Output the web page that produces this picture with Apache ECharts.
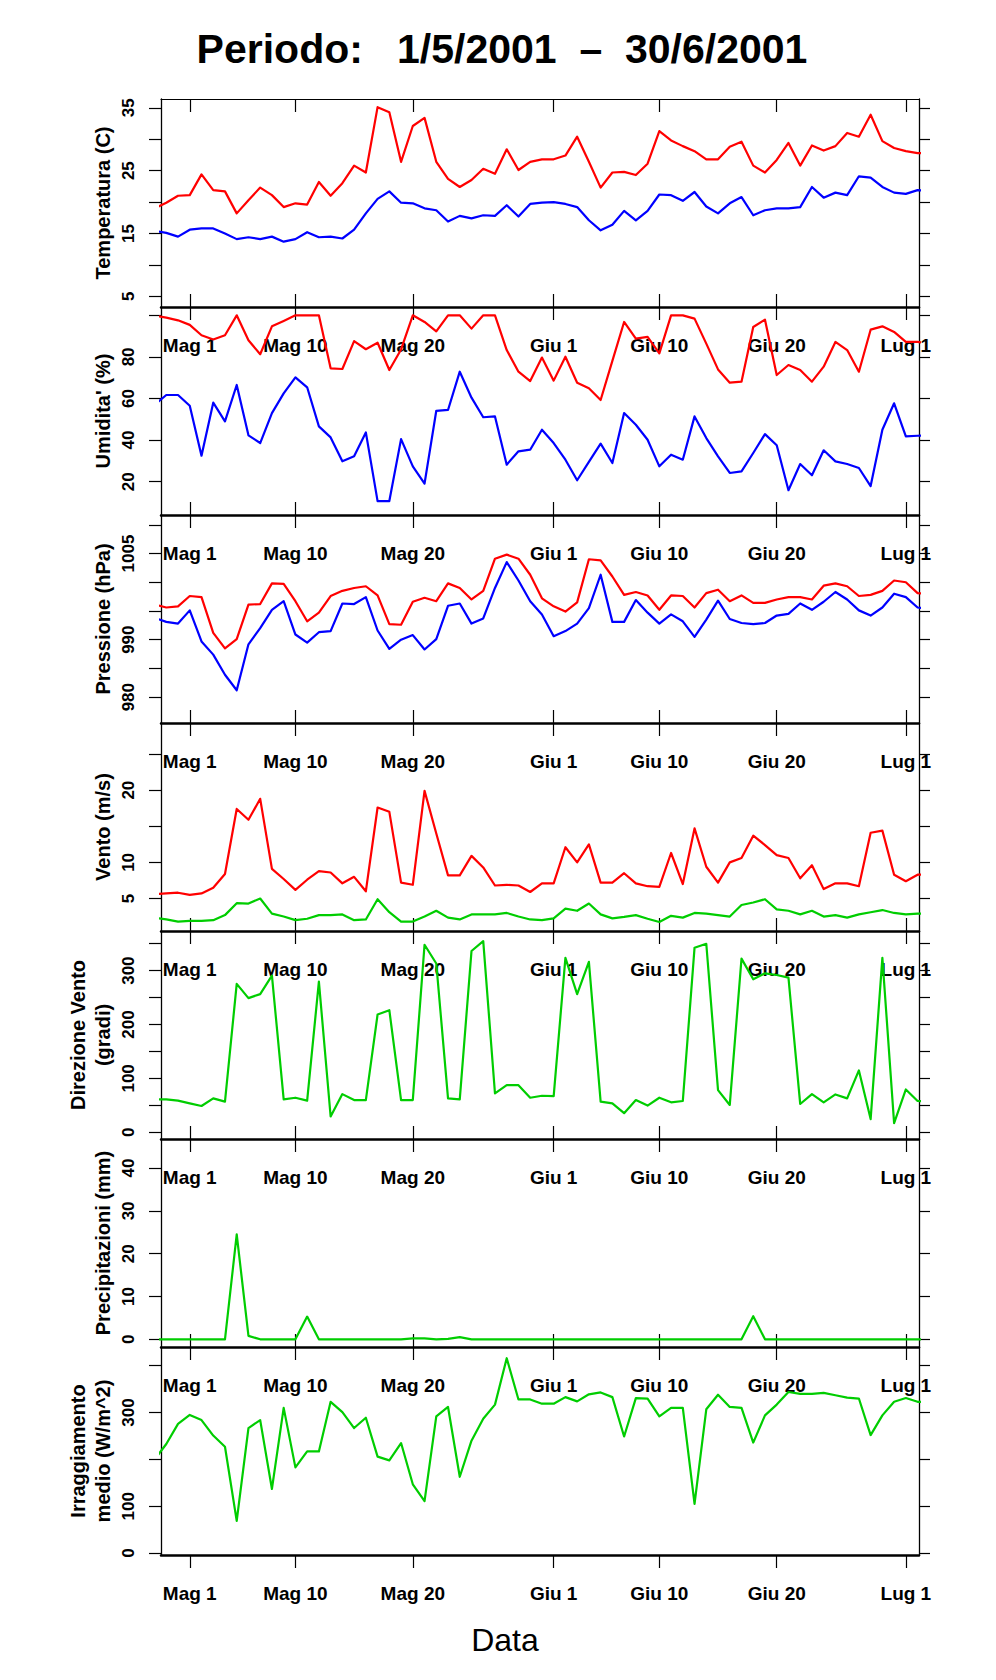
<!DOCTYPE html>
<html>
<head>
  <meta charset="utf-8">
  <title>Periodo 1/5/2001 - 30/6/2001</title>
  <script src="https://cdn.jsdelivr.net/npm/echarts@6/dist/echarts.min.js"></script>
  <style>
    html, body { margin: 0; padding: 0; background: #fff; }
    #main { width: 996px; height: 1680px; }
  </style>
</head>
<body>
<div id="main"></div>
<script>
// days counted from 1 May 2001; the series start on 28 April
var firstDay = -3;
var tickDays = [0, 9, 19, 31, 40, 50, 61];
var tickLabels = ['Mag 1', 'Mag 10', 'Mag 20', 'Giu 1', 'Giu 10', 'Giu 20', 'Lug 1'];

var tempMax = [19.0, 19.9, 21.0, 21.1, 24.4, 21.9, 21.7, 18.2, 20.3, 22.3,
  21.1, 19.2, 19.8, 19.6, 23.2, 21.0, 23.0, 25.8, 24.7, 35.1,
  34.3, 26.4, 32.1, 33.4, 26.4, 23.7, 22.4, 23.5, 25.3, 24.5,
  28.4, 25.1, 26.4, 26.8, 26.8, 27.4, 30.4, 26.4, 22.3, 24.7,
  24.8, 24.3, 26.1, 31.3, 29.8, 28.9, 28.1, 26.8, 26.8, 28.8,
  29.6, 25.8, 24.7, 26.7, 29.4, 25.8, 29.0, 28.2, 28.9, 31.0,
  30.4, 33.9, 29.7, 28.6, 28.1, 27.8, 27.7];
var tempMin = [15.4, 15.1, 14.5, 15.6, 15.8, 15.8, 15.0, 14.1, 14.4, 14.1,
  14.5, 13.7, 14.1, 15.2, 14.4, 14.5, 14.2, 15.6, 18.2, 20.5,
  21.7, 19.9, 19.8, 19.0, 18.7, 16.9, 17.8, 17.4, 17.9, 17.8,
  19.5, 17.7, 19.7, 19.9, 20.0, 19.7, 19.2, 17.1, 15.5, 16.4,
  18.6, 17.1, 18.6, 21.2, 21.1, 20.2, 21.6, 19.3, 18.2, 19.8,
  20.8, 17.9, 18.7, 19.0, 19.0, 19.2, 22.4, 20.7, 21.5, 21.1,
  24.1, 23.9, 22.4, 21.5, 21.3, 21.9, 21.8];

var humMax = [99.8, 98.9, 97.6, 95.4, 90.4, 88.4, 90.4, 100, 88.0, 81.3,
  94.7, 97.3, 100, 100, 100, 74.5, 74.2, 87.6, 83.7, 86.8,
  73.7, 83.6, 100, 96.8, 92.3, 100, 100, 93.6, 100, 100,
  83.3, 72.9, 68.4, 79.7, 68.6, 80.1, 67.6, 64.9, 59.3, 78.1,
  96.8, 88.8, 89.6, 81.7, 100, 100, 98.4, 86.4, 74.0, 67.6,
  68.1, 94.4, 97.9, 71.3, 76.1, 73.7, 68.1, 75.3, 87.2, 83.3,
  72.9, 93.1, 94.7, 92.0, 87.2, 87.2, 86.4];
var humMin = [56.9, 61.7, 61.7, 56.5, 32.5, 58.0, 49.0, 66.5, 42.3, 38.6,
  53.0, 62.5, 70.2, 65.4, 46.6, 41.3, 29.8, 32.2, 43.7, 10.7,
  10.7, 40.5, 27.4, 19.1, 54.1, 54.5, 72.9, 60.4, 51.0, 51.4,
  28.2, 34.6, 35.4, 45.0, 38.6, 30.6, 20.7, 29.5, 38.3, 29.0,
  53.0, 47.4, 40.2, 27.4, 33.0, 30.6, 51.4, 41.0, 32.2, 24.2,
  25.0, 33.8, 42.9, 37.5, 15.9, 28.5, 23.1, 35.1, 29.8, 28.5,
  26.6, 17.9, 45.0, 57.7, 41.8, 42.1, 42.3];

var pressMax = [996.1, 995.6, 995.8, 997.6, 997.4, 991.2, 988.5, 990.1, 996.1, 996.2,
  999.8, 999.7, 996.7, 993.2, 994.7, 997.6, 998.5, 999.0, 999.3, 997.7,
  992.7, 992.6, 996.6, 997.3, 996.7, 999.8, 999.0, 997.0, 998.5, 1004.1,
  1004.8, 1004.1, 1001.3, 997.2, 995.8, 994.9, 996.5, 1004.0, 1003.8, 1001.0,
  997.8, 998.3, 997.7, 995.2, 997.7, 997.6, 995.6, 998.1, 998.7, 996.7,
  997.7, 996.4, 996.4, 997.0, 997.4, 997.4, 997.0, 999.4, 999.8, 999.3,
  997.6, 997.8, 998.5, 1000.3, 1000.0, 998.1, 998.0];
var pressMin = [993.8, 993.1, 992.8, 995.1, 989.7, 987.4, 983.9, 981.2, 989.2, 992.0,
  995.2, 996.7, 990.9, 989.5, 991.3, 991.5, 996.3, 996.2, 997.4, 991.6,
  988.4, 990.0, 990.8, 988.3, 990.1, 995.9, 996.3, 992.8, 993.7, 999.0,
  1003.5, 1000.3, 996.7, 994.4, 990.6, 991.5, 992.8, 995.5, 1001.3, 993.1,
  993.1, 996.9, 994.7, 992.8, 994.4, 993.2, 990.5, 993.5, 996.8, 993.6,
  992.9, 992.7, 992.9, 994.2, 994.5, 996.3, 995.2, 996.6, 998.3, 997.0,
  995.1, 994.2, 995.6, 998.0, 997.4, 995.6, 995.4];

var windMax = [5.6, 5.7, 5.8, 5.5, 5.7, 6.5, 8.4, 17.4, 15.9, 18.8,
  9.1, 7.7, 6.2, 7.6, 8.8, 8.6, 7.1, 8.0, 6.0, 17.6,
  17.0, 7.2, 6.9, 19.9, 14.0, 8.2, 8.2, 10.9, 9.3, 6.8,
  6.9, 6.8, 5.9, 7.1, 7.1, 12.1, 10.0, 12.5, 7.2, 7.2,
  8.5, 7.1, 6.7, 6.6, 11.3, 7.0, 14.7, 9.4, 7.2, 10.0,
  10.6, 13.7, 12.4, 11.0, 10.6, 7.8, 9.6, 6.3, 7.1, 7.1,
  6.7, 14.1, 14.4, 8.3, 7.4, 8.3, 8.3];
var windMean = [2.35, 2.1, 1.8, 1.9, 1.9, 2.0, 2.7, 4.35, 4.3, 5.0,
  2.9, 2.5, 2.0, 2.2, 2.7, 2.7, 2.8, 2.0, 2.1, 4.9,
  3.1, 1.8, 1.8, 2.5, 3.3, 2.35, 2.1, 2.8, 2.8, 2.8,
  3.0, 2.5, 2.1, 2.0, 2.25, 3.6, 3.3, 4.3, 2.8, 2.25,
  2.45, 2.7, 2.2, 1.75, 2.6, 2.35, 3.0, 2.9, 2.7, 2.5,
  4.1, 4.45, 4.9, 3.5, 3.3, 2.8, 3.3, 2.5, 2.7, 2.35,
  2.8, 3.1, 3.4, 3.0, 2.8, 2.9, 2.9];

var windDir = [61, 61, 58.6, 53.7, 48.8, 62.9, 56.8, 275.3, 249, 256.4,
  290.6, 61, 64.1, 58.6, 279.6, 29.3, 70.8, 59.8, 59.8, 218.6,
  226.5, 59.8, 59.8, 348, 313.2, 62.9, 61, 336.4, 354.7, 72,
  87.3, 87.3, 64.1, 67.8, 67.2, 323.6, 256.4, 316.2, 56.8, 53.7,
  35.4, 59.8, 49.5, 64.1, 55.6, 58, 342.5, 349.8, 78.1, 50.7,
  322.3, 283.9, 294.9, 291.8, 286.9, 52.5, 70.8, 55.6, 70.2, 62.9,
  114.8, 24.4, 323.6, 17.1, 79.4, 58, 57];

var rain = [0, 0, 0, 0, 0, 0, 0, 24.5, 0.8, 0,
  0, 0, 0, 5.3, 0, 0, 0, 0, 0, 0,
  0, 0, 0.2, 0.2, 0, 0.1, 0.5, 0, 0, 0,
  0, 0, 0, 0, 0, 0, 0, 0, 0, 0,
  0, 0, 0, 0, 0, 0, 0, 0, 0, 0,
  0, 5.4, 0, 0, 0, 0, 0, 0, 0, 0,
  0, 0, 0, 0, 0, 0, 0];

var irr = [200, 233, 276, 295, 284, 251, 227, 69, 267, 284,
  137, 310, 183, 217, 217, 323, 301, 267, 289, 206,
  198, 235, 147, 111, 292, 312, 163, 240, 287, 317,
  416, 328, 328, 319, 319, 333, 324, 339, 343, 333,
  249, 331, 330, 292, 310, 310, 105, 307, 338, 312,
  310, 236, 294, 317, 344, 340, 340, 342, 337, 332,
  330, 252, 294, 323, 331, 323, 322];

// y axis ticks and the labels R kept
var tempTicks = [5, 10, 15, 20, 25, 30, 35], tempLabels = [5, 15, 25, 35];
var humTicks = [20, 40, 60, 80, 100], humLabels = [20, 40, 60, 80];
var pressTicks = [980, 985, 990, 995, 1000, 1005, 1010], pressLabels = [980, 990, 1005];
var windTicks = [5, 10, 15, 20, 25], windLabels = [5, 10, 20];
var dirTicks = [0, 50, 100, 150, 200, 250, 300, 350], dirLabels = [0, 100, 200, 300];
var rainTicks = [0, 10, 20, 30, 40], rainLabels = [0, 10, 20, 30, 40];
var irrTicks = [0, 100, 200, 300, 400], irrLabels = [0, 100, 300];

var RED = '#ff0000', BLUE = '#0000ff', GREEN = '#00cd00';
var FONT = '"Liberation Sans", Arial, Helvetica, sans-serif';

var panels = [
  { name: 'Temperatura (C)', min: 3.3, max: 36.4, ticks: tempTicks, labels: tempLabels,
    lines: [[tempMax, RED], [tempMin, BLUE]] },
  { name: "Umidita' (%)", min: 4, max: 104, ticks: humTicks, labels: humLabels,
    lines: [[humMax, RED], [humMin, BLUE]] },
  { name: 'Pressione (hPa)', min: 975.5, max: 1011.7, ticks: pressTicks, labels: pressLabels,
    lines: [[pressMax, RED], [pressMin, BLUE]] },
  { name: 'Vento (m/s)', min: 0.5, max: 29.3, ticks: windTicks, labels: windLabels,
    lines: [[windMax, RED], [windMean, GREEN]] },
  { name: 'Direzione Vento\n(gradi)', min: -12.5, max: 373.5, ticks: dirTicks, labels: dirLabels,
    lines: [[windDir, GREEN]] },
  { name: 'Precipitazioni (mm)', min: -1.8, max: 46.8, ticks: rainTicks, labels: rainLabels,
    lines: [[rain, GREEN]] },
  { name: 'Irraggiamento\nmedio (W/m^2)', min: -4, max: 440, ticks: irrTicks, labels: irrLabels,
    lines: [[irr, GREEN]] }
];

var gridLeft = 161, gridWidth = 758, gridTop = 99, gridHeight = 208;
var xMin = -2.45, xMax = 62.12;

function toPoints(values) {
  return values.map(function (v, i) { return [firstDay + i, v]; });
}

function dayLabel(v) {
  var k = tickDays.indexOf(Math.round(v));
  return k >= 0 ? tickLabels[k] : '';
}

var grids = [], xAxes = [], yAxes = [], series = [];

panels.forEach(function (p, i) {
  grids.push({ left: gridLeft, top: gridTop + gridHeight * i, width: gridWidth, height: gridHeight });

  // bottom axis carries the date labels, drawn into the panel below
  xAxes.push({
    type: 'value', gridIndex: i, position: 'bottom', min: xMin, max: xMax,
    axisLine: { show: true, onZero: false, lineStyle: { color: '#000', width: 2.5 } },
    axisTick: { show: true, customValues: tickDays, length: 13, lineStyle: { color: '#000', width: 1.2 } },
    axisLabel: { show: true, customValues: tickDays, formatter: dayLabel, margin: 29,
      color: '#000', fontSize: 19, fontWeight: 'bold', fontFamily: FONT },
    splitLine: { show: false }
  });
  xAxes.push({
    type: 'value', gridIndex: i, position: 'top', min: xMin, max: xMax,
    axisLine: { show: true, onZero: false, lineStyle: { color: '#000', width: 1.2 } },
    axisTick: { show: true, inside: i === 0, customValues: tickDays, length: 13,
      lineStyle: { color: '#000', width: 1.2 } },
    axisLabel: { show: false },
    splitLine: { show: false }
  });

  yAxes.push({
    type: 'value', gridIndex: i, position: 'left', min: p.min, max: p.max,
    name: p.name, nameLocation: 'middle', nameRotate: 90, nameGap: 46, nameMoveOverlap: false,
    nameTextStyle: { color: '#000', fontSize: 20, fontWeight: 'bold', fontFamily: FONT, lineHeight: 25 },
    axisLine: { show: true, onZero: false, lineStyle: { color: '#000', width: 1.3 } },
    axisTick: { show: true, customValues: p.ticks, length: 12, lineStyle: { color: '#000', width: 1.2 } },
    axisLabel: { show: true, customValues: p.labels, rotate: 90, margin: 24,
      formatter: function (v) { return String(v); },
      color: '#000', fontSize: 17, fontWeight: 'bold', fontFamily: FONT },
    splitLine: { show: false }
  });
  yAxes.push({
    type: 'value', gridIndex: i, position: 'right', min: p.min, max: p.max,
    axisLine: { show: true, onZero: false, lineStyle: { color: '#000', width: 1.3 } },
    axisTick: { show: true, customValues: p.ticks, length: 11, lineStyle: { color: '#000', width: 1.2 } },
    axisLabel: { show: false },
    splitLine: { show: false }
  });

  p.lines.forEach(function (l) {
    series.push({
      type: 'line', xAxisIndex: 2 * i, yAxisIndex: 2 * i,
      data: toPoints(l[0]), showSymbol: false, symbol: 'none', clip: true, silent: true,
      lineStyle: { color: l[1], width: 2.2, join: 'round', cap: 'round' }
    });
  });
});

var chart = echarts.init(document.getElementById('main'), null, { renderer: 'svg' });
chart.setOption({
  animation: false,
  backgroundColor: '#fff',
  grid: grids,
  xAxis: xAxes,
  yAxis: yAxes,
  series: series,
  graphic: [
    { type: 'text', x: 502, y: 49,
      style: { text: 'Periodo:   1/5/2001  \u2013  30/6/2001', fill: '#000',
        font: 'bold 41px ' + FONT, align: 'center', verticalAlign: 'middle' } },
    { type: 'text', x: 505, y: 1640,
      style: { text: 'Data', fill: '#000',
        font: '32px ' + FONT, align: 'center', verticalAlign: 'middle' } }
  ]
});
</script>
</body>
</html>
